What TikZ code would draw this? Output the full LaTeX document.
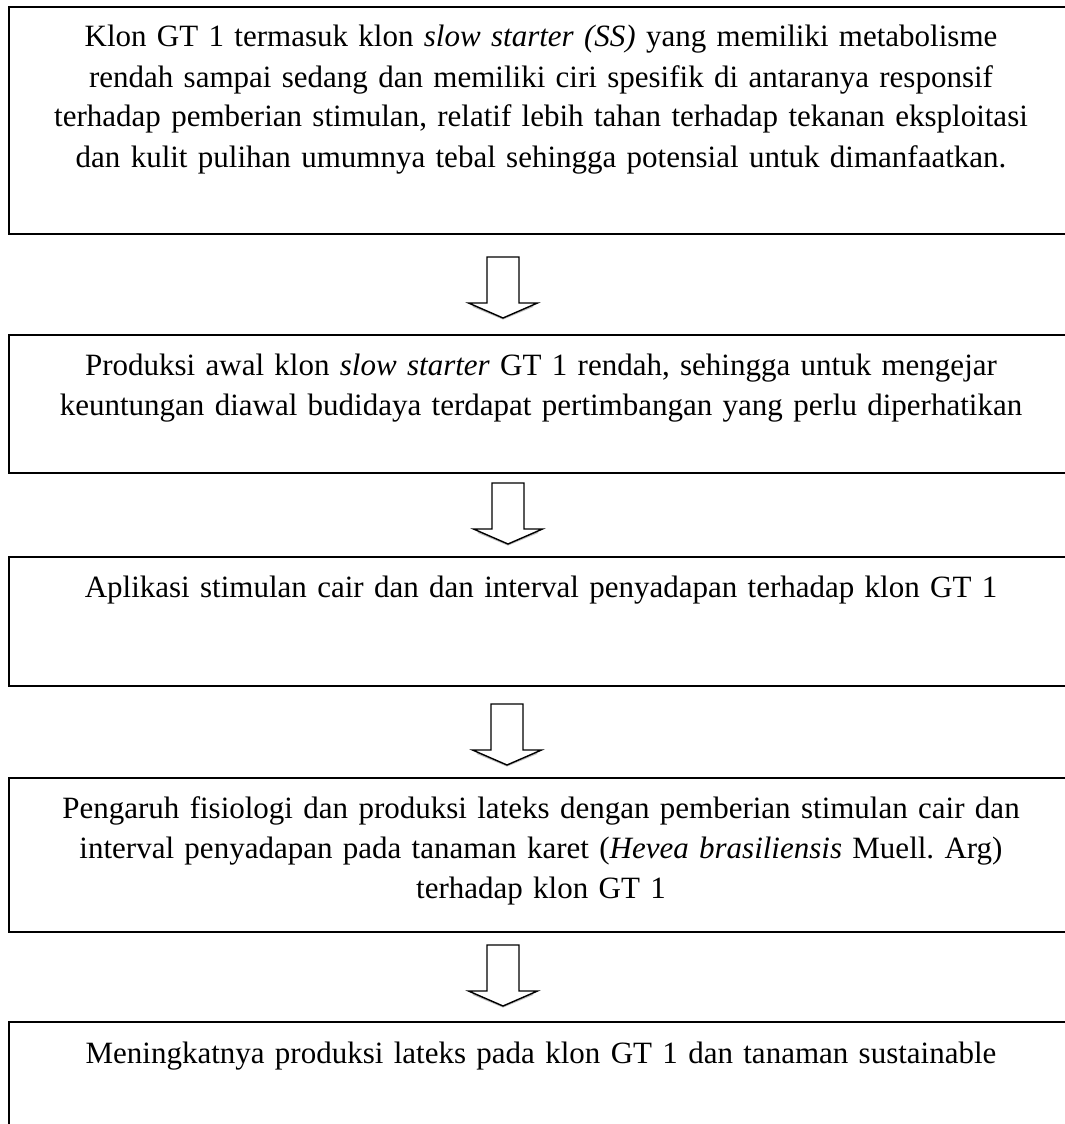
\documentclass[tikz,border=0pt]{standalone}
\usepackage{fontspec}
\setmainfont{Liberation Serif}
\begin{document}
\begin{tikzpicture}[x=1pt,y=-1pt,
  flowbox/.style={draw=black, line width=2pt, fill=none, inner sep=0pt, outer sep=0pt,
    anchor=north west, minimum width=1070pt},
  flowtext/.style={anchor=base, inner sep=0pt, align=center, text width=1040pt,
    font=\fontsize{31}{40}\selectfont\frenchspacing},
  blockarrow/.style={draw=black, line width=1.4pt, fill=white, line join=miter},
  arrowshadow/.style={draw=black!25, line width=2pt}]
\useasboundingbox (0,0) rectangle (1065,1124);
\clip (0,0) rectangle (1065,1124);
% boxes
\node[flowbox, minimum height=227pt] (b1) at (8.5,7) {};
\node[flowbox, minimum height=138pt] (b2) at (8.5,335) {};
\node[flowbox, minimum height=129pt] (b3) at (8.5,557) {};
\node[flowbox, minimum height=154pt] (b4) at (8.5,778) {};
\node[flowbox, minimum height=130pt] (b5) at (8.5,1022) {};
% texts
\node[flowtext] (t1) at (541,47) {Klon GT 1 termasuk klon \textit{slow starter (SS)} yang memiliki metabolisme\\
rendah sampai sedang dan memiliki ciri spesifik di antaranya responsif\\
terhadap pemberian stimulan, relatif lebih tahan terhadap tekanan eksploitasi\\
dan kulit pulihan umumnya tebal sehingga potensial untuk dimanfaatkan.};
\node[flowtext] (t2) at (541,375) {Produksi awal klon \textit{slow starter} GT 1 rendah, sehingga untuk mengejar\\
keuntungan diawal budidaya terdapat pertimbangan yang perlu diperhatikan};
\node[flowtext] (t3) at (541,597) {Aplikasi stimulan cair dan dan interval penyadapan terhadap klon GT 1};
\node[flowtext] (t4) at (541,818) {Pengaruh fisiologi dan produksi lateks dengan pemberian stimulan cair dan\\
interval penyadapan pada tanaman karet (\textit{Hevea brasiliensis} Muell. Arg)\\
terhadap klon GT 1};
\node[flowtext] (t5) at (541,1063) {Meningkatnya produksi lateks pada klon GT 1 dan tanaman sustainable};
% block arrows between boxes (top centre of each arrow)
\coordinate (a1) at (503,257);
\coordinate (a2) at (508,483);
\coordinate (a3) at (507,704);
\coordinate (a4) at (503,945);
\foreach \a in {a1,a2,a3,a4}{
  \begin{scope}[shift={(\a)}]
    \draw[arrowshadow] (-30,49) -- (0,61.5) -- (30,49);
    \draw[blockarrow] (-16,0) -- (-16,46) -- (-34.5,46) -- (0,61) -- (34.5,46) -- (16,46) -- (16,0) -- cycle;
  \end{scope}
}
\end{tikzpicture}
\end{document}
